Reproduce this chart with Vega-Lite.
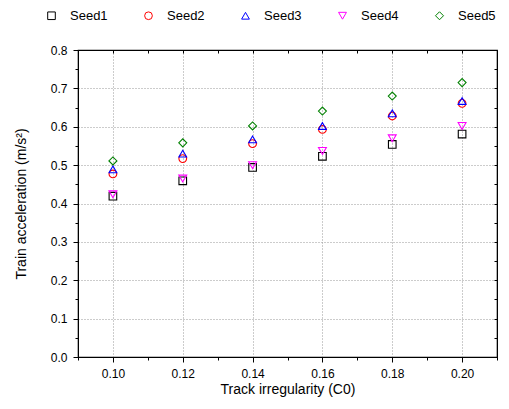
{
  "$schema": "https://vega.github.io/schema/vega-lite/v6.json",
  "autosize": {"type": "none"},
  "padding": {"left": 78, "top": 50, "right": 12, "bottom": 52},
  "width": 419,
  "height": 307,
  "config": {
    "font": "Liberation Sans",
    "view": {"stroke": "#000000", "strokeWidth": 1.2},
    "axis": {"labelFont": "Liberation Sans", "titleFont": "Liberation Sans", "labelColor": "#000", "titleColor": "#000", "domainColor": "#000", "tickColor": "#000", "titleFontWeight": "normal", "labelFontSize": 12, "titleFontSize": 14, "gridColor": "#999999", "gridDash": [1, 2], "gridWidth": 1},
    "legend": {"title": null, "orient": "none", "direction": "horizontal", "columns": 5, "legendX": -33, "legendY": -41, "padding": 0, "symbolStrokeWidth": 1, "labelFontSize": 13, "labelFont": "Liberation Sans", "labelColor": "#000", "labelOffset": 12, "columnPadding": 34}
  },
  "data": {"values": [
    {"x": 0.10, "seed": "Seed1", "y": 0.419},
    {"x": 0.12, "seed": "Seed1", "y": 0.459},
    {"x": 0.14, "seed": "Seed1", "y": 0.494},
    {"x": 0.16, "seed": "Seed1", "y": 0.523},
    {"x": 0.18, "seed": "Seed1", "y": 0.554},
    {"x": 0.20, "seed": "Seed1", "y": 0.581},
    {"x": 0.10, "seed": "Seed2", "y": 0.477},
    {"x": 0.12, "seed": "Seed2", "y": 0.517},
    {"x": 0.14, "seed": "Seed2", "y": 0.556},
    {"x": 0.16, "seed": "Seed2", "y": 0.593},
    {"x": 0.18, "seed": "Seed2", "y": 0.628},
    {"x": 0.20, "seed": "Seed2", "y": 0.661},
    {"x": 0.10, "seed": "Seed3", "y": 0.489},
    {"x": 0.12, "seed": "Seed3", "y": 0.530},
    {"x": 0.14, "seed": "Seed3", "y": 0.567},
    {"x": 0.16, "seed": "Seed3", "y": 0.602},
    {"x": 0.18, "seed": "Seed3", "y": 0.635},
    {"x": 0.20, "seed": "Seed3", "y": 0.667},
    {"x": 0.10, "seed": "Seed4", "y": 0.424},
    {"x": 0.12, "seed": "Seed4", "y": 0.465},
    {"x": 0.14, "seed": "Seed4", "y": 0.500},
    {"x": 0.16, "seed": "Seed4", "y": 0.537},
    {"x": 0.18, "seed": "Seed4", "y": 0.570},
    {"x": 0.20, "seed": "Seed4", "y": 0.602},
    {"x": 0.10, "seed": "Seed5", "y": 0.511},
    {"x": 0.12, "seed": "Seed5", "y": 0.558},
    {"x": 0.14, "seed": "Seed5", "y": 0.602},
    {"x": 0.16, "seed": "Seed5", "y": 0.641},
    {"x": 0.18, "seed": "Seed5", "y": 0.680},
    {"x": 0.20, "seed": "Seed5", "y": 0.715}
  ]},
  "resolve": {"axis": {"x": "independent", "y": "independent"}},
  "layer": [
    {
      "mark": {"type": "point", "filled": false, "strokeWidth": 1.1, "opacity": 1},
      "encoding": {
        "x": {"field": "x", "type": "quantitative",
          "scale": {"domain": [0.09, 0.21], "nice": false, "zero": false},
          "axis": {"orient": "bottom", "values": [0.10, 0.12, 0.14, 0.16, 0.18, 0.20], "format": ".2f", "tickSize": 5, "labelPadding": 6, "grid": true, "title": "Track irregularity (C0)", "titlePadding": 3}},
        "y": {"field": "y", "type": "quantitative",
          "scale": {"domain": [0, 0.8], "nice": false, "zero": true},
          "axis": {"orient": "left", "values": [0, 0.1, 0.2, 0.3, 0.4, 0.5, 0.6, 0.7, 0.8], "format": ".1f", "tickSize": 5, "labelPadding": 6, "grid": true, "title": "Train acceleration (m/s²)", "titlePadding": 22}},
        "color": {"field": "seed", "type": "nominal",
          "scale": {"domain": ["Seed1", "Seed2", "Seed3", "Seed4", "Seed5"], "range": ["#000000", "#ff0000", "#0000ff", "#ff00ff", "#008000"]}},
        "shape": {"field": "seed", "type": "nominal",
          "scale": {"domain": ["Seed1", "Seed2", "Seed3", "Seed4", "Seed5"], "range": ["square", "circle", "triangle-up", "triangle-down", "diamond"]}},
        "size": {"field": "seed", "type": "nominal",
          "scale": {"domain": ["Seed1", "Seed2", "Seed3", "Seed4", "Seed5"], "range": [58, 64, 110, 110, 120]}}
      }
    },
    {
      "mark": {"type": "point", "opacity": 0},
      "encoding": {
        "x": {"field": "x", "type": "quantitative",
          "axis": {"orient": "bottom", "values": [0.09, 0.11, 0.13, 0.15, 0.17, 0.19, 0.21], "labels": false, "grid": false, "domain": false, "tickSize": 3, "title": null}},
        "y": {"field": "y", "type": "quantitative",
          "axis": {"orient": "left", "values": [0.05, 0.15, 0.25, 0.35, 0.45, 0.55, 0.65, 0.75], "labels": false, "grid": false, "domain": false, "tickSize": 3, "title": null}}
      }
    },
    {
      "mark": {"type": "point", "opacity": 0},
      "encoding": {
        "x": {"field": "x", "type": "quantitative",
          "axis": {"orient": "top", "values": [0.10, 0.11, 0.12, 0.13, 0.14, 0.15, 0.16, 0.17, 0.18, 0.19, 0.20], "labels": false, "grid": false, "domain": true, "tickSize": -3, "title": null}},
        "y": {"field": "y", "type": "quantitative",
          "axis": {"orient": "right", "values": [0.05, 0.1, 0.15, 0.2, 0.25, 0.3, 0.35, 0.4, 0.45, 0.5, 0.55, 0.6, 0.65, 0.7, 0.75], "labels": false, "grid": false, "domain": true, "tickSize": -3, "title": null}}
      }
    }
  ]
}
